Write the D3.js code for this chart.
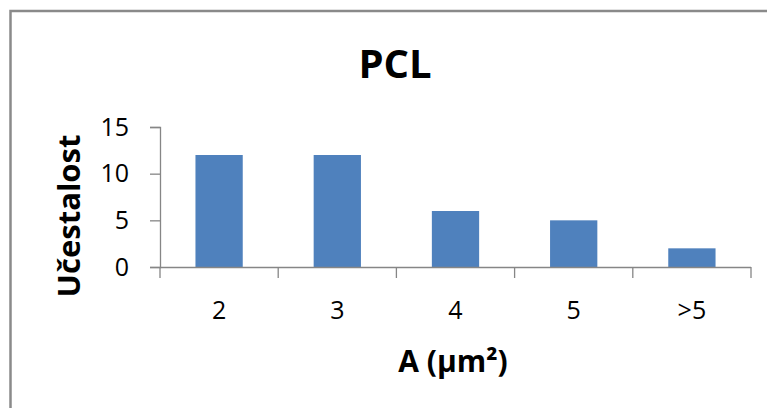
<!DOCTYPE html>
<html>
<head>
<meta charset="utf-8">
<script src="https://cdn.jsdelivr.net/npm/d3@7"></script>
<style>
  html, body { margin: 0; padding: 0; background: #fff; }
  svg { display: block; }
  text { font-family: "Open Sans", sans-serif; fill: #000; }
</style>
</head>
<body>
<svg id="chart" width="767" height="408"></svg>
<script>
const categories = ["2", "3", "4", "5", ">5"];
const values = [12, 12, 6, 5, 2];
const yTicks = [0, 5, 10, 15];
const titleText = "PCL";
const xTitle = "A (μm²)";
const yTitle = "Učestalost";

(function () {
const svg = d3.select("#chart");
const W = 767, H = 408;
svg.append("rect").attr("x", 0).attr("y", 0).attr("width", W).attr("height", H).attr("fill", "#fff");

// outer frame (continues past the right and bottom edges)
svg.append("rect")
  .attr("x", 10.5).attr("y", 11)
  .attr("width", 800).attr("height", 420)
  .attr("fill", "none").attr("stroke", "#8a8a8a").attr("stroke-width", 2.5);

const pLeft = 160, pRight = 751, pTop = 127, pBottom = 267;

const x = d3.scaleBand().domain(categories).range([pLeft, pRight])
  .paddingInner(0.6).paddingOuter(0.3);
const y = d3.scaleLinear().domain([0, 15]).range([pBottom, pTop]);

const axisColor = "#868686";
const tickFont = "'Open Sans', sans-serif";

// bars
svg.append("g").selectAll("rect").data(values).join("rect")
  .attr("x", (d, i) => x(categories[i]))
  .attr("y", d => y(d))
  .attr("width", x.bandwidth())
  .attr("height", d => y(0) - y(d))
  .attr("fill", "#4f81bd");

// y axis
const yAxis = svg.append("g").attr("transform", `translate(${pLeft},0)`)
  .call(d3.axisLeft(y).tickValues(yTicks).tickSize(10).tickPadding(21).tickFormat(d3.format("d")));
yAxis.select(".domain").attr("stroke", axisColor).attr("stroke-width", 1.3);
yAxis.selectAll(".tick line").attr("stroke", axisColor).attr("stroke-width", 1.3);
yAxis.selectAll(".tick text").attr("font-size", 25).attr("font-family", tickFont).attr("fill", "#000");

// x axis: line plus boundary ticks
const xg = svg.append("g");
xg.append("line").attr("x1", pLeft).attr("x2", pRight).attr("y1", pBottom + 0.5).attr("y2", pBottom + 0.5)
  .attr("stroke", axisColor).attr("stroke-width", 1.3);
const step = x.step();
const bounds = d3.range(categories.length + 1).map(i => x(categories[0]) - x.paddingOuter() * step + i * step);
xg.selectAll("line.b").data(bounds).join("line").attr("class", "b")
  .attr("x1", d => d).attr("x2", d => d).attr("y1", pBottom).attr("y2", pBottom + 11)
  .attr("stroke", axisColor).attr("stroke-width", 1.3);
xg.selectAll("text").data(categories).join("text")
  .attr("x", d => x(d) + x.bandwidth() / 2).attr("y", 319)
  .attr("text-anchor", "middle").attr("font-size", 25).text(d => d);

// titles
svg.append("text").attr("x", 395).attr("y", 78).attr("text-anchor", "middle")
  .attr("font-family", "Lato, 'Open Sans', sans-serif")
  .attr("font-size", 40).attr("font-weight", "bold").text(titleText);
svg.append("text").attr("x", 453).attr("y", 372).attr("text-anchor", "middle")
  .attr("font-size", 30).attr("font-weight", "bold").text(xTitle);
svg.append("text").attr("transform", "translate(80,216) rotate(-90)").attr("text-anchor", "middle")
  .attr("font-size", 31).attr("font-weight", "bold").text(yTitle);
})();
</script>
</body>
</html>
